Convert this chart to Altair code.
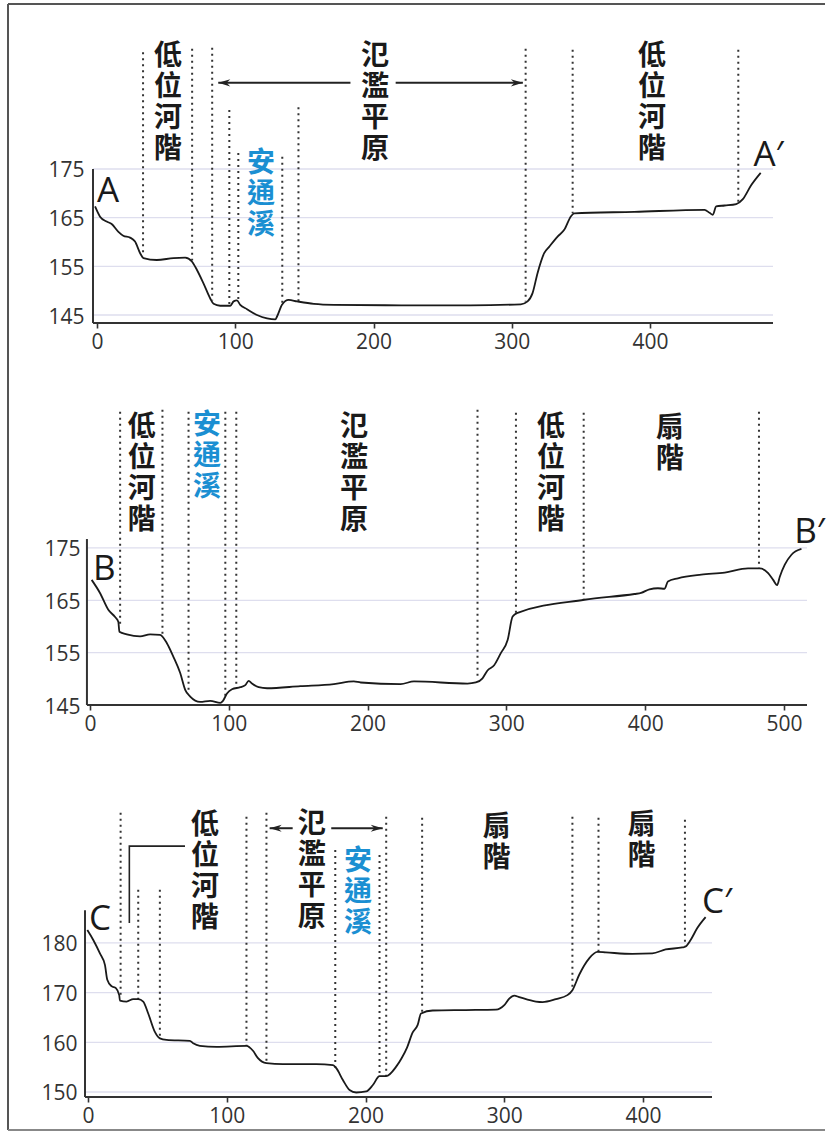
import altair as alt
import pandas as pd

# ---------------- Profile A - A' ----------------
a_x = [-1.4, 2.2, 7, 10.6, 15.5, 19, 23.9, 27.5, 31.2, 33.6, 43.2, 55.3, 63.8, 68.6, 72.2, 77, 81.9, 84.3,
       89.1, 96.4, 98.8, 101.2, 103.6, 108.5, 115.7, 123, 129, 130.2, 133.8, 138.6, 144.7, 156.8, 171.3,
       220, 270, 306.5, 311.4, 315, 318.6, 323.4, 327, 333.1, 337.9, 342.8, 345.2, 388.6, 439.4, 443,
       445.4, 447.8, 453.9, 462.3, 467.1, 473.2, 480]
a_y = [167.3, 165.2, 164.2, 163.7, 162.1, 161.3, 160.9, 160.1, 157.7, 156.7, 156.3, 156.7, 156.8, 156.0,
       154.3, 151.5, 148.4, 147.3, 146.9, 146.9, 147.8, 148.0, 147.1, 146.2, 145.0, 144.3, 144.1, 144.7,
       147.1, 148.1, 147.8, 147.3, 147.1, 147.0, 147.0, 147.2, 147.8, 149.5, 153.6, 157.7, 159.0, 161.1,
       162.5, 165.3, 165.9, 166.2, 166.6, 166.0, 165.6, 167.3, 167.5, 167.8, 168.8, 171.7, 174.2]
a_bx = [33.3, 68.8, 83.3, 95.7, 102.2, 134, 145.7, 310, 344, 463.8]
a_btop = [199.0, 199.7, 199.9, 187.1, 178.3, 177.5, 187.7, 199.7, 199.5, 199.5]
a_bbot = [157.5, 156.2, 148.0, 147.2, 147.9, 147.4, 147.8, 147.8, 165.9, 167.9]
a_lab = ["低位河階", "氾濫平原", "安通溪", "低位河階"]
a_lab_x = [51.4, 201.1, 118.6, 401.4]
a_lab_y = [188.4, 188.4, 169.7, 188.4]
a_lab_blue = [False, False, True, False]
a_end = ["A", "A′"]
a_end_x = [8.0, 485.7]
a_end_y = [168.2, 175.6]
a_arr_tail = [183.3, 216]
a_arr_tip = [87.7, 308]
a_arr_y = [192.7, 192.7]
a_xticks = [0, 100, 200, 300, 400]
a_yticks = [145, 155, 165, 175]

# ---------------- Profile B - B' ----------------
b_x = [1.2, 7.2, 13.2, 18.1, 20.4, 21.2, 26.5, 36.1, 43.3, 50.5, 55.4, 60.1, 65, 68.6, 72.2, 79.4, 86.6,
       93.9, 95.8, 98.7, 102.3, 108.3, 111.9, 114.3, 116.7, 121.5, 127.6, 151.6, 175.7, 190.1, 195,
       223.8, 233.4, 272, 278, 282.8, 286.4, 291.2, 296, 300.9, 304.5, 308.1, 356.2, 392.3, 397.1,
       403.1, 409.2, 414, 416.4, 423.6, 440.4, 457.3, 474.1, 482.5, 488.6, 492.2, 495.1, 497, 500.6,
       505.4, 512.6]
b_y = [168.9, 166.4, 163.2, 161.8, 160.9, 159.0, 158.5, 158.1, 158.5, 158.4, 156.8, 154.2, 151.1, 147.9,
       146.6, 145.6, 145.8, 145.4, 145.8, 147.2, 148.0, 148.4, 148.8, 149.6, 149.1, 148.4, 148.2, 148.6,
       149.0, 149.5, 149.3, 149.0, 149.5, 149.1, 149.3, 150.1, 151.6, 152.6, 154.9, 157.4, 161.9, 162.6,
       165.1, 166.2, 166.4, 167.1, 167.3, 167.2, 168.6, 169.2, 169.9, 170.3, 171.1, 171.1, 170.2, 168.9,
       167.9, 169.5, 171.8, 173.7, 174.8]
b_bx = [21.7, 52.2, 71, 97.5, 105.4, 279.2, 306.9, 355.7, 482]
b_btop = [201.0, 201.4, 201.0, 201.0, 201.0, 201.4, 200.8, 200.8, 201.0]
b_bbot = [160.3, 158.6, 147.6, 146.2, 148.3, 149.8, 162.5, 165.1, 171.1]
b_lab = ["低位河階", "安通溪", "氾濫平原", "低位河階", "扇階"]
b_lab_x = [37.2, 84.3, 190.2, 332.1, 417.9]
b_lab_y = [189.1, 192.4, 189.1, 189.1, 194.7]
b_lab_blue = [False, True, False, False, False]
b_end = ["B", "B′"]
b_end_x = [10.4, 518.4]
b_end_y = [168.9, 176.0]
b_xticks = [0, 100, 200, 300, 400, 500]
b_yticks = [145, 155, 165, 175]

# ---------------- Profile C - C' ----------------
c_x = [-0.5, 3.8, 8.6, 12.2, 13.9, 17, 20.1, 22.5, 23, 27.8, 32.6, 36.2, 39.8, 43.4, 48.2, 51.8, 56.6,
       73.4, 75.8, 80.6, 92.6, 114.2, 118.9, 122.5, 128.6, 140.5, 164.5, 176.5, 178.9, 183.7, 188.5,
       193.3, 200.5, 205.3, 210.1, 214.9, 222.1, 226, 230, 234, 237.6, 240, 248.4, 272.4, 294, 300,
       303.6, 307.2, 310.8, 322.8, 327.6, 337.2, 345.5, 349.1, 354, 361.2, 367.1, 373.2, 392.3, 406.7,
       416.3, 428.3, 430.7, 434.3, 439.1, 445.1]
c_y = [182.6, 180.6, 177.9, 175.6, 172.6, 171.3, 170.9, 169.5, 168.4, 168.2, 168.7, 168.7, 168.2, 165.8,
       162.1, 160.8, 160.5, 160.3, 159.8, 159.3, 159.1, 159.3, 158.3, 156.8, 155.8, 155.6, 155.6, 155.4,
       154.8, 152.4, 150.4, 149.9, 150.1, 151.4, 153.2, 153.2, 155.1, 156.8, 159.0, 162.0, 163.5, 165.8,
       166.4, 166.5, 166.6, 167.5, 168.8, 169.4, 169.1, 168.2, 168.1, 168.7, 169.5, 170.5, 173.6, 176.9,
       178.2, 178.1, 177.8, 177.9, 178.7, 179.1, 179.3, 180.6, 183.0, 185.2]
c_bx = [23.5, 36.2, 51.8, 114.2, 128.6, 178.2, 210.1, 214.9, 240.8, 349.1, 367.9, 430.2]
c_btop = [206.2, 190.7, 190.7, 205.4, 206.2, 198.7, 197.7, 205.4, 205.2, 205.4, 205.2, 204.8]
c_bbot = [169.5, 168.7, 160.8, 159.3, 155.8, 154.9, 153.2, 153.2, 165.8, 170.5, 178.2, 179.3]
c_lab = ["低位河階", "氾濫平原", "安通溪", "扇階", "扇階"]
c_lab_x = [84.3, 161.2, 194.6, 294.6, 399.1]
c_lab_y = [194.1, 194.3, 190.1, 200.1, 200.5]
c_lab_blue = [False, False, True, False, False]
c_end = ["C", "C′"]
c_end_x = [8.6, 453.3]
c_end_y = [182.6, 186.0]
c_arr_tail = [147.5, 175.3]
c_arr_tip = [130.9, 212.4]
c_arr_y = [203.1, 203.1]
c_brk_x = [29.8, 29.8, 69.9]
c_brk_y = [184.0, 199.5, 199.5]
c_xticks = [0, 100, 200, 300, 400]
c_yticks = [150, 160, 170, 180]

FONT_NUM = "Open Sans"
FONT_CJK = "Noto Sans CJK TC"
INK = "#1a1a1a"
AXC = "#333333"
BLUE = "#1b8fd2"
GRID = "#dedeee"
LH = 31
RIGHT_HEAD = "M0,0L-2,-0.6L-1.4,0L-2,0.6Z"
LEFT_HEAD = "M0,0L2,-0.6L1.4,0L2,0.6Z"


def panel(px, py, bx, btop, bbot, lab, lab_x, lab_y, lab_blue, ends, end_x, end_y,
          xdom, ydom, x0, ytop, xticks, yticks, w, h, lpad,
          arr=None, bracket=None, frame=False):
    xs = alt.Scale(domain=xdom, nice=False, zero=False)
    ys = alt.Scale(domain=ydom, nice=False, zero=False)
    xax = alt.Axis(values=xticks, title=None, grid=False, domain=False, ticks=True, tickSize=5,
                   tickWidth=1.6, tickColor=AXC, labelFont=FONT_NUM, labelFontSize=21,
                   labelColor=AXC, labelPadding=3, labelFlush=False, format="d")
    yax = alt.Axis(values=yticks, title=None, grid=False, domain=False, ticks=False, tickSize=0,
                   labelPadding=lpad, labelFont=FONT_NUM, labelFontSize=21, labelColor=AXC,
                   labelOffset=2, format="d")
    X = alt.X("x:Q", scale=xs, axis=xax)
    Y = alt.Y("y:Q", scale=ys, axis=yax)

    grid_df = pd.DataFrame({"y": yticks, "x": [x0] * len(yticks), "x2": [xdom[1]] * len(yticks)})
    grid = alt.Chart(grid_df).mark_rule(color=GRID, strokeWidth=1.3).encode(x=X, x2="x2:Q", y=Y)

    axes_df = pd.DataFrame({"x": [x0, x0], "x2": [xdom[1], x0],
                            "y": [ydom[0], ydom[0]], "y2": [ydom[0], ytop]})
    axes = alt.Chart(axes_df).mark_rule(color=AXC, strokeWidth=2).encode(
        x=X, x2="x2:Q", y=Y, y2="y2:Q")

    bd_df = pd.DataFrame({"x": bx, "y": btop, "y2": bbot})
    bounds = alt.Chart(bd_df).mark_rule(color="#333333", strokeWidth=2, strokeDash=[2, 4]).encode(
        x=X, y=Y, y2="y2:Q")

    prof_df = pd.DataFrame({"x": px, "y": py})
    prof = alt.Chart(prof_df).mark_line(color=INK, strokeWidth=1.8, interpolate="monotone").encode(x=X, y=Y)

    layers = [grid, bounds, prof, axes]

    lab_df = pd.DataFrame({"x": lab_x, "y": lab_y, "t": ["\n".join(list(s)) for s in lab],
                           "n": [len(s) for s in lab],
                           "c": [BLUE if b else INK for b in lab_blue]})
    for n in sorted(set(lab_df["n"])):
        sub = lab_df[lab_df["n"] == n]
        layers.append(alt.Chart(sub).mark_text(
            font=FONT_CJK, fontSize=28, fontWeight="bold", lineHeight=LH, lineBreak="\n",
            align="center", baseline="middle", dy=-(n - 1) * LH / 2).encode(
            x=X, y=Y, text="t:N", color=alt.Color("c:N", scale=None)))

    end_df = pd.DataFrame({"x": end_x, "y": end_y, "t": ends})
    layers.append(alt.Chart(end_df).mark_text(font=FONT_NUM, fontSize=35, color=INK, align="center",
                                              baseline="alphabetic").encode(x=X, y=Y, text="t:N"))

    if arr is not None:
        tail, tip, ay = arr
        arr_df = pd.DataFrame({"x": tail, "x2": tip, "y": ay})
        layers.append(alt.Chart(arr_df).mark_rule(color="#222222", strokeWidth=2).encode(
            x=X, x2="x2:Q", y=Y))
        lh = pd.DataFrame({"x": [t for t, s in zip(tip, tail) if t < s],
                           "y": [y for t, s, y in zip(tip, tail, ay) if t < s]})
        rh = pd.DataFrame({"x": [t for t, s in zip(tip, tail) if t > s],
                           "y": [y for t, s, y in zip(tip, tail, ay) if t > s]})
        layers.append(alt.Chart(lh).mark_point(shape=LEFT_HEAD, size=144, filled=True, color="#222222",
                                               opacity=1, strokeWidth=0).encode(x=X, y=Y))
        layers.append(alt.Chart(rh).mark_point(shape=RIGHT_HEAD, size=144, filled=True, color="#222222",
                                               opacity=1, strokeWidth=0).encode(x=X, y=Y))
    if bracket is not None:
        bxs, bys = bracket
        br_df = pd.DataFrame({"x": bxs, "y": bys, "o": list(range(len(bxs)))})
        layers.append(alt.Chart(br_df).mark_line(color="#222222", strokeWidth=1.6).encode(
            x=X, y=Y, order="o:Q"))
    if frame:
        one = pd.DataFrame({"k": [0]})
        fr = dict(color="#555555", strokeWidth=2)
        layers.append(alt.Chart(one).mark_rule(**fr).encode(
            x=alt.value(-77), x2=alt.value(740), y=alt.value(-36)))
        layers.append(alt.Chart(one).mark_rule(**fr).encode(
            x=alt.value(-77), y=alt.value(-36), y2=alt.value(1090)))
        layers.append(alt.Chart(one).mark_rule(color="#888888", strokeWidth=2).encode(
            x=alt.value(-77), x2=alt.value(740), y=alt.value(1090)))

    return alt.layer(*layers).properties(width=w, height=h)


pa = panel(a_x, a_y, a_bx, a_btop, a_bbot, a_lab, a_lab_x, a_lab_y, a_lab_blue, a_end, a_end_x, a_end_y,
           [-8.68, 488.9], [143.36, 201.5], -2.9, 175, a_xticks, a_yticks, 688, 283, 1,
           arr=(a_arr_tail, a_arr_tip, a_arr_y), frame=True)
pb = panel(b_x, b_y, b_bx, b_btop, b_bbot, b_lab, b_lab_x, b_lab_y, b_lab_blue, b_end, b_end_x, b_end_y,
           [-3.6, 516.6], [145, 202.3], -2.2, 176.7, b_xticks, b_yticks, 722, 300, 5)
pc = panel(c_x, c_y, c_bx, c_btop, c_bbot, c_lab, c_lab_x, c_lab_y, c_lab_blue, c_end, c_end_x, c_end_y,
           [-2.16, 449.7], [148.99, 211.4], -2.16, 186.6, c_xticks, c_yticks, 627, 310, 8,
           arr=(c_arr_tail, c_arr_tip, c_arr_y), bracket=(c_brk_x, c_brk_y))

chart = alt.vconcat(pa, pb, pc, spacing=82, bounds="flush").properties(
    padding={"left": 7, "top": 3, "right": 0, "bottom": 0},
    background="white",
).configure_view(stroke=None)

chart.save("out.html", embed_options={"renderer": "svg", "actions": False})
